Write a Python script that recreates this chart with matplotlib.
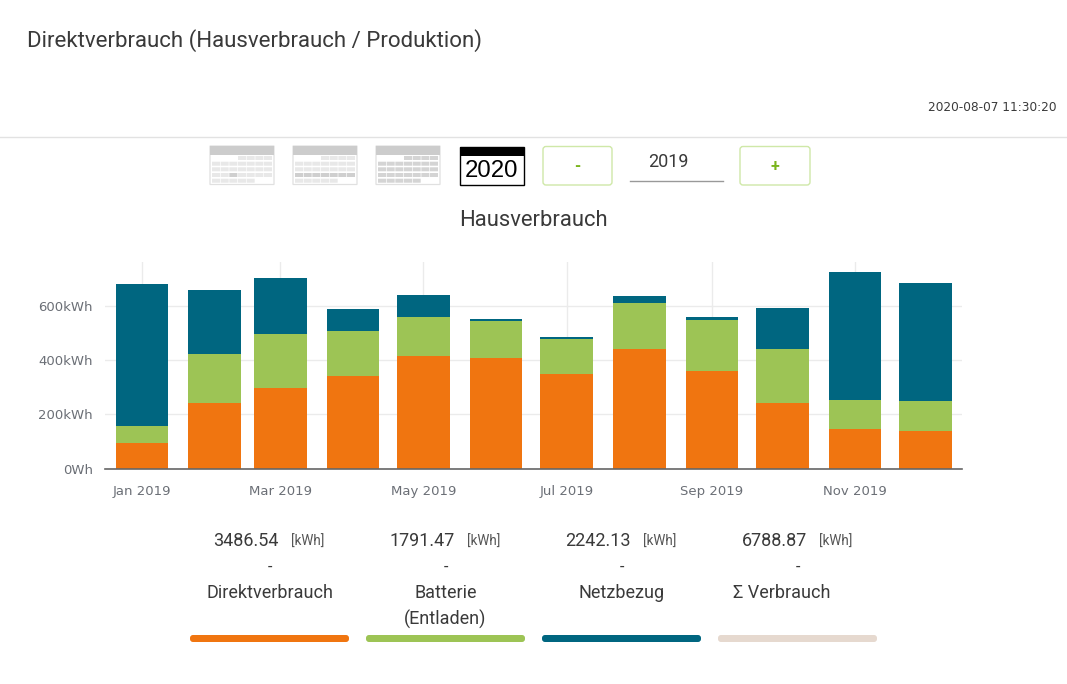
#!/usr/bin/env python3
"""Direktverbrauch dashboard panel: stacked monthly bars plus the page widgets around them."""

import matplotlib
matplotlib.use("Agg")
import matplotlib.dates as mdates
import matplotlib.pyplot as plt
import pandas as pd
from matplotlib.patches import FancyBboxPatch, Rectangle
from matplotlib.ticker import FuncFormatter

W, H = 1067, 684

plt.rcParams.update({
    "font.family": ["Roboto", "DejaVu Sans"],
    "figure.dpi": 100,
})

MONTHS = ["2019-01-01", "2019-02-01", "2019-03-01", "2019-04-01", "2019-05-01", "2019-06-01",
          "2019-07-01", "2019-08-01", "2019-09-01", "2019-10-01", "2019-11-01", "2019-12-01"]
DIREKT = [95, 242, 298, 342, 416, 409, 350, 442, 361, 242, 146, 139]
BATTERIE = [63, 181, 199, 166, 144, 136, 129, 170, 188, 199, 107, 111]
NETZ = [524, 236, 207, 81, 81, 8, 7, 26, 11, 151, 473, 435]
YTICKS = [0, 200, 400, 600]

TOTALS = ["3486.54", "1791.47", "2242.13", "6788.87"]
NAMES = ["Direktverbrauch", "Batterie\n(Entladen)", "Netzbezug", "Σ Verbrauch"]

ORANGE = "#f07510"
GREEN = "#9dc455"
BLUE = "#006680"
BEIGE = "#e6d9cf"
INK = "#3a3a3a"
GRID = "#ebebeb"
TICK = "#6b6f76"
BTN = "#cfe8a8"
BTN_TXT = "#7ab51d"


def px(size):
    return size * 0.72


def calendar(ax, x0, hot=(), mid=False):
    """Greyed-out period icon: header strip plus a small grid of day cells."""
    ax.add_patch(Rectangle((x0, 146), 64, 38.5, fc="white", ec="#e0e0e0", lw=0.9, snap=False))
    ax.add_patch(Rectangle((x0, 146), 64, 9, fc="#cccccc", ec="none", snap=False))
    for r, y in enumerate([156, 161.7, 167.3, 173, 178.7]):
        for c in range(7):
            if (r == 0 and c < 3) or (r == 4 and c > 4):
                continue
            col = "#e8e8e8"
            if mid:
                col = "#d4d4d4" if r > 0 or c > 2 else "#dcdcdc"
            if (r, c) in hot:
                col = "#cfcfcf"
            ax.add_patch(Rectangle((x0 + 2 + c * 8.67, y), 8, 4, fc=col, ec="none", snap=False))


def button(ax, x0, x1, label):
    ax.add_patch(FancyBboxPatch((x0 + 3, 149.5), x1 - x0 - 6, 32.5,
                                boxstyle="round,pad=3,rounding_size=3",
                                fc="white", ec=BTN, lw=1.0))
    ax.text((x0 + x1) / 2, 166.5, label, ha="center", va="center",
            fontsize=px(16), fontweight="bold", color=BTN_TXT)


def page(ax):
    ax.set_xlim(0, W); ax.set_ylim(H, 0); ax.axis("off")

    ax.text(27, 40.5, "Direktverbrauch (Hausverbrauch / Produktion)", va="center",
            fontsize=px(22.3), color=INK)
    ax.text(1057, 107.5, "2020-08-07 11:30:20", ha="right", va="center",
            fontsize=px(12.1), color=INK, family=["DejaVu Sans"])
    ax.plot([0, W], [136.5, 136.5], color="#e2e2e2", lw=1)

    # period selectors
    calendar(ax, 210, hot={(3, 2)})
    calendar(ax, 293, hot={(3, c) for c in range(7)})
    calendar(ax, 376, mid=True)
    ax.add_patch(Rectangle((459.5, 146.5), 64, 38, fc="white", ec="black", lw=1))
    ax.add_patch(Rectangle((459.5, 146.5), 64, 9, fc="black", ec="none"))
    ax.text(491.5, 171, "2020", ha="center", va="center", fontsize=px(24), color="black",
            family=["Liberation Sans", "DejaVu Sans"])

    button(ax, 543, 612, "-")
    button(ax, 740, 810, "+")
    ax.text(668, 162, "2019", ha="center", va="center", fontsize=px(18), color=INK)
    ax.plot([630, 723], [180.5, 180.5], color="#999999", lw=1)

    ax.text(533.5, 220, "Hausverbrauch", ha="center", va="center", fontsize=px(22), color=INK)

    # legend blocks under the chart
    starts = [190, 366, 542, 718]
    for x0, total, name, col in zip(starts, TOTALS, NAMES, [ORANGE, GREEN, BLUE, BEIGE]):
        cx = x0 + 79.5
        name_x = cx if col != BEIGE else 782
        ax.text(x0 + 89, 541, total, ha="right", va="center", fontsize=px(18), color=INK)
        ax.text(x0 + 101, 542, "[kWh]", ha="left", va="center", fontsize=px(13.5), color="#555555")
        ax.text(cx, 567, "-", ha="center", va="center", fontsize=px(16), color=INK)
        for i, line in enumerate(name.split("\n")):
            ax.text(name_x, 592.5 + i * 26.5, line, ha="center", va="center",
                    fontsize=px(18), color=INK)
        ax.add_patch(FancyBboxPatch((x0 + 3, 638), 153, 1, boxstyle="round,pad=3,rounding_size=3",
                                    fc=col, ec="none"))


def chart(fig):
    left, right, top, bottom = 105, 961.7, 262, 468.7
    ax = fig.add_axes([left / W, 1 - bottom / H, (right - left) / W, (bottom - top) / H])
    ax.patch.set_alpha(0)

    dates = pd.to_datetime(MONTHS)
    x = mdates.date2num(dates)
    width = 22.4  # days
    stack = [DIREKT[i] + BATTERIE[i] for i in range(len(DIREKT))]
    ax.bar(x, DIREKT, width=width, color=ORANGE, zorder=3)
    ax.bar(x, BATTERIE, width=width, bottom=DIREKT, color=GREEN, zorder=3)
    ax.bar(x, NETZ, width=width, bottom=stack, color=BLUE, zorder=3)

    ax.set_xlim(x[0] - 15.8, x[0] + 349.5)
    ax.set_ylim(0, 762.7)
    ax.xaxis_date()
    ax.set_xticks(x[::2])
    ax.xaxis.set_major_formatter(mdates.DateFormatter("%b %Y"))
    ax.set_yticks(YTICKS)
    ax.yaxis.set_major_formatter(FuncFormatter(lambda v, _: "0Wh" if v == 0 else f"{v:.0f}kWh"))

    ax.grid(True, color=GRID, lw=1, zorder=0)
    ax.set_axisbelow(True)
    for side in ("top", "right", "left"):
        ax.spines[side].set_visible(False)
    ax.spines["bottom"].set_color("#666666")
    ax.spines["bottom"].set_linewidth(1.2)
    ax.spines["bottom"].set_zorder(4)

    ax.tick_params(axis="both", length=0, labelcolor=TICK, labelsize=px(13.2))
    ax.tick_params(axis="x", pad=11.5)
    ax.tick_params(axis="y", pad=8.6)
    for label in ax.get_xticklabels() + ax.get_yticklabels():
        label.set_fontfamily("DejaVu Sans")


if __name__ == "__main__":
    fig = plt.figure(figsize=(W / 100, H / 100), dpi=100, facecolor="white")
    overlay = fig.add_axes([0, 0, 1, 1])
    page(overlay)
    chart(fig)
    fig.savefig("out.png", dpi=100)
